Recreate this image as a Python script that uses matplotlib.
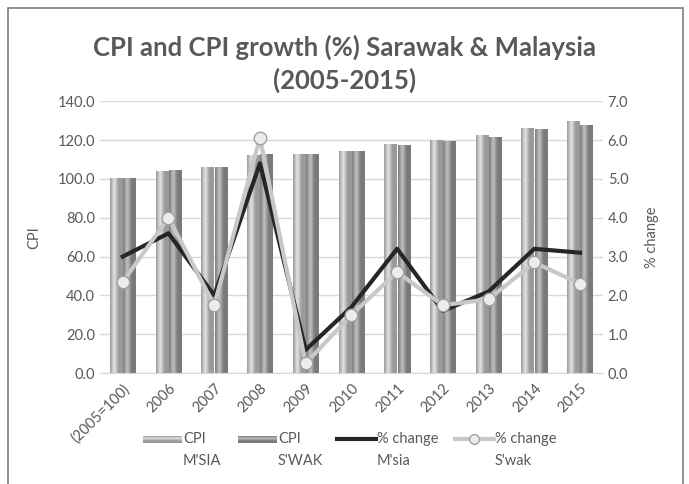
import numpy as np
import matplotlib.pyplot as plt
from matplotlib.patches import Rectangle
from matplotlib.lines import Line2D

plt.rcParams['font.family'] = ['Lato', 'DejaVu Sans']

years = ['(2005=100)', '2006', '2007', '2008', '2009', '2010',
         '2011', '2012', '2013', '2014', '2015']
cpi_msia = [100.0, 103.6, 105.7, 112.2, 112.3, 114.0, 117.6, 119.6, 122.0, 126.0, 129.3]
cpi_swak = [100.0, 104.1, 105.9, 112.3, 112.4, 114.2, 117.3, 119.0, 121.4, 125.1, 127.3]
chg_msia = [3.0, 3.6, 2.0, 5.4, 0.6, 1.7, 3.2, 1.6, 2.1, 3.2, 3.1]
chg_swak = [2.35, 4.0, 1.75, 6.05, 0.25, 1.5, 2.6, 1.75, 1.9, 2.85, 2.3]
leg_labels = ["CPI\nM'SIA", "CPI\nS'WAK", "% change\nM'sia", "% change\nS'wak"]

txt = '#595959'
x = np.arange(len(years))
w = 0.27

W, H = 689, 484
fig = plt.figure(figsize=(W / 100, H / 100), dpi=100)
ax = fig.add_axes([0.145, 0.229, 0.73, 0.562])
ax2 = ax.twinx()

def grad(dark, light):
    return plt.matplotlib.colors.LinearSegmentedColormap.from_list('g', [dark, light, dark, dark])

def grad_bars(bars, dark, light):
    # fake the cylinder look of the excel bars with a horizontal gradient
    g = np.linspace(0, 1, 50).reshape(1, -1)
    for b in bars:
        x0, wd, h = b.get_x(), b.get_width(), b.get_height()
        ax.imshow(g, cmap=grad(dark, light), aspect='auto', extent=[x0, x0 + wd, 0, h],
                  zorder=2, interpolation='bicubic')
        b.set_visible(False)

b1 = ax.bar(x - w / 2 - 0.01, cpi_msia, w, color='#a6a6a6', zorder=2)
b2 = ax.bar(x + w / 2 + 0.01, cpi_swak, w, color='#8a8a8a', zorder=2)
grad_bars(b1, '#9a9a9a', '#e6e6e6')
grad_bars(b2, '#7a7a7a', '#c4c4c4')

ax.set_xlim(-0.5, len(years) - 0.5)
ax.set_ylim(0, 140)
ax.set_yticks(np.arange(0, 141, 20))
ax.set_yticklabels([f'{v:.1f}' for v in np.arange(0, 141, 20)])
ax.yaxis.grid(True, color='#d9d9d9', linewidth=1, zorder=0)
ax.set_axisbelow(True)
ax.set_xticks(x)
ax.set_xticklabels(years, rotation=45, ha='right', rotation_mode='anchor')
ax.set_ylabel('CPI', color=txt, fontsize=10.5, labelpad=12)

ax2.plot(x, chg_msia, color='#262626', linewidth=3, zorder=3)
ax2.plot(x, chg_swak, color='#c8c8c8', linewidth=3, marker='o', markersize=9,
         markerfacecolor='#ececec', markeredgecolor='#a0a0a0', markeredgewidth=1, zorder=4)
ax2.set_ylim(0, 7)
ax2.set_yticks(np.arange(0, 7.1, 1))
ax2.set_yticklabels([f'{v:.1f}' for v in np.arange(0, 7.1, 1)])
ax2.set_ylabel('% change', color=txt, fontsize=10.5, labelpad=12)

for a in (ax, ax2):
    for s in a.spines.values():
        s.set_visible(False)
    a.tick_params(length=0, colors=txt, labelsize=10.5)
ax.spines['bottom'].set_visible(True)
ax.spines['bottom'].set_color('#d9d9d9')
ax.tick_params(axis='x', pad=6)

fig.text(0.5, 0.903, 'CPI and CPI growth (%) Sarawak & Malaysia', ha='center', va='center',
         fontsize=18.5, fontweight='bold', color=txt)
fig.text(0.5, 0.835, '(2005-2015)', ha='center', va='center',
         fontsize=18.5, fontweight='bold', color=txt)

# manual legend, excel style: handle beside first line of a two-line label
tf = fig.transFigure
hx = [143, 238, 337, 455]
hy = 1 - 439 / H
for i, (px, lab) in enumerate(zip(hx, leg_labels)):
    x0, x1 = px / W, (px + 39) / W
    if i < 2:
        dark, light = ('#9a9a9a', '#e6e6e6') if i == 0 else ('#7a7a7a', '#c4c4c4')
        g = np.linspace(0, 1, 30).reshape(-1, 1)
        iax = fig.add_axes([x0, hy - 3.5 / H, 39 / W, 7 / H])
        iax.imshow(g, cmap=grad(dark, light), aspect='auto', interpolation='bicubic')
        iax.axis('off')
    elif i == 2:
        fig.add_artist(Line2D([x0, x1], [hy, hy], transform=tf, color='#262626', linewidth=3))
    else:
        fig.add_artist(Line2D([x0, x1], [hy, hy], transform=tf, color='#c8c8c8', linewidth=3))
        fig.add_artist(Line2D([(x0 + x1) / 2], [hy], transform=tf, marker='o', markersize=7,
                              markerfacecolor='#ececec', markeredgecolor='#a0a0a0'))
    top, bot = lab.split('\n')
    fig.text(x1 + 1 / W, hy, top, ha='left', va='center', fontsize=10.5, color=txt)
    fig.text(x1 + 1 / W, hy - 22 / H, bot, ha='left', va='center', fontsize=10.5, color=txt)

fig.patches.append(Rectangle((0.012, -0.05), 0.98, 1.034, transform=tf,
                             fill=False, edgecolor='#7f7f7f', linewidth=1.2))

fig.savefig('out.png', dpi=100)
